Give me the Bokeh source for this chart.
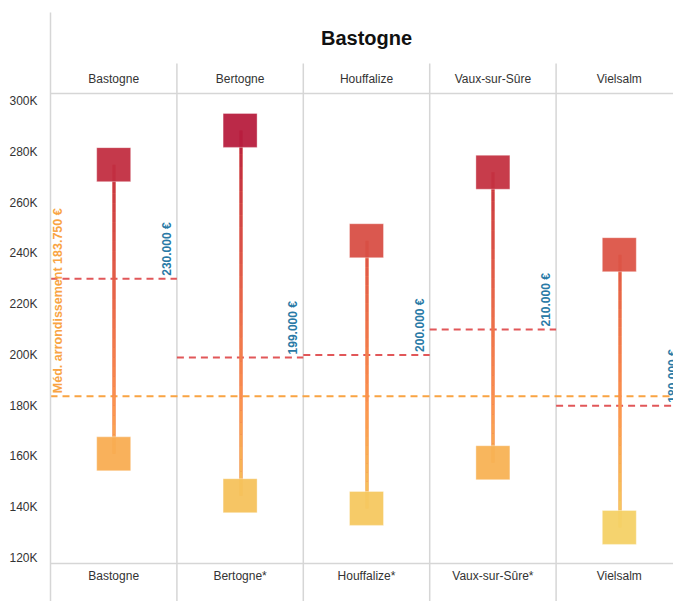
import numpy as np
from bokeh.plotting import figure
from bokeh.models import Range1d, FixedTicker, Arrow, ColumnDataSource, LinearColorMapper
from bokeh.core.properties import value
from bokeh.embed import file_html
from bokeh.resources import INLINE

# ---------------- data ----------------
title_text = "Bastogne"
towns = ["Bastogne", "Bertogne", "Houffalize", "Vaux-sur-Sûre", "Vielsalm"]
bottom_labels = ["Bastogne", "Bertogne*", "Houffalize*", "Vaux-sur-Sûre*", "Vielsalm"]
price_high = [275000, 288500, 245000, 272000, 239500]
price_low = [161000, 144500, 139500, 157500, 132000]
town_median = [230000, 199000, 200000, 210000, 180000]
district_median = 183750
district_label = "Méd. arrondissement 183.750 €"
y_ticks = [120000, 140000, 160000, 180000, 200000, 220000, 240000, 260000, 280000, 300000]
y_tick_labels = ["120K", "140K", "160K", "180K", "200K", "220K", "240K", "260K", "280K", "300K"]

# gold -> red colour scheme
gold_red = ["#f4d166", "#f6be59", "#f9aa51", "#fc964e", "#f6834b", "#ee734a",
            "#e56249", "#db5247", "#cf4244", "#c43141", "#b71d3e"]


def interp_palette(anchors, n=256):
    rgb = np.array([[int(h[i:i + 2], 16) for i in (1, 3, 5)] for h in anchors], float)
    pos = np.linspace(0, 1, len(anchors))
    t = np.linspace(0, 1, n)
    out = []
    for tt in t:
        c = [np.interp(tt, pos, rgb[:, k]) for k in range(3)]
        out.append("#%02x%02x%02x" % tuple(int(round(v)) for v in c))
    return out


palette = interp_palette(gold_red)

# ---------------- geometry helpers (pixel <-> data) ----------------
W, H = 673, 601
LEFT, TOP = 50, 12
COL_W = 126.4
Y300_PX = 100.7
PX_PER_K = 2.537


def xd(px):
    return (px - LEFT) / COL_W


def xpx(x):
    return LEFT + x * COL_W


def yd(py):
    return 300000 - (py - Y300_PX) / PX_PER_K * 1000


n = len(towns)
centers = [i + 0.5 for i in range(n)]

p = figure(width=W, height=H,
           x_range=Range1d(0, xd(W)), y_range=Range1d(yd(H), yd(TOP)),
           output_backend="svg", toolbar_location=None, x_axis_location=None,
           min_border_left=LEFT, min_border_right=0, min_border_top=TOP, min_border_bottom=0,
           outline_line_color=None, background_fill_color="white", border_fill_color="white")
p.grid.visible = False

ax = p.yaxis[0]
ax.ticker = FixedTicker(ticks=y_ticks)
ax.major_label_overrides = {t: l for t, l in zip(y_ticks, y_tick_labels)}
ax.major_tick_line_color = None
ax.minor_tick_line_color = None
ax.axis_line_color = "#d6d6d6"
ax.axis_line_width = 1.5
ax.major_label_text_font = "Liberation Sans"
ax.major_label_text_font_size = "12px"
ax.major_label_text_color = "#333333"
ax.major_label_standoff = 7

GRID = "#d6d6d6"
FONT = value("Liberation Sans")

# column separators
p.segment(x0=list(range(1, n)), x1=list(range(1, n)),
          y0=[yd(63)] * (n - 1), y1=[yd(H)] * (n - 1),
          line_color=GRID, line_width=1.5)

# pane boundary lines (extend into the left margin)
for py in (93, 563):
    p.add_layout(Arrow(end=None, x_start=xd(4), y_start=yd(py), x_end=xd(W), y_end=yd(py),
                       line_color=GRID, line_width=1.5))

# town medians
p.segment(x0=list(range(n)), x1=[i + 1 for i in range(n)], y0=town_median, y1=town_median,
          line_color="#e15759", line_width=2, line_dash="7 5")
# district median
p.segment(x0=[0], x1=[n], y0=[district_median], y1=[district_median],
          line_color="#f9a443", line_width=2, line_dash="7 5")

mapper = LinearColorMapper(palette=palette, low=min(price_low), high=max(price_high))

# whisker underlay (one plain band per town, coloured by its midpoint)
under = dict(left=[], right=[], bottom=price_low, top=price_high,
             v=[(lo + hi) / 2 for lo, hi in zip(price_low, price_high)])
for c in centers:
    cpx = round(xpx(c))
    under["left"].append(xd(cpx - 1))
    under["right"].append(xd(cpx + 2))
p.quad(left="left", right="right", bottom="bottom", top="top", source=ColumnDataSource(under),
       fill_color={"field": "v", "transform": mapper}, line_color=None)

# whisker gradient: pieces coloured by the value they cover
bands = dict(left=[], right=[], bottom=[], top=[], v=[])
for c, lo, hi in zip(centers, price_low, price_high):
    cpx = round(xpx(c))
    ys = np.linspace(lo, hi, 31)
    for a, b in zip(ys[:-1], ys[1:]):
        bands["left"].append(xd(cpx - 1))
        bands["right"].append(xd(cpx + 2))
        bands["bottom"].append(a)
        bands["top"].append(b)
        bands["v"].append((a + b) / 2)
p.quad(left="left", right="right", bottom="bottom", top="top", source=ColumnDataSource(bands),
       fill_color={"field": "v", "transform": mapper}, line_color=None)

pts = ColumnDataSource(dict(x=centers * 2, y=price_high + price_low, v=price_high + price_low))
p.scatter("x", "y", source=pts, marker="square", size=34,
          fill_color={"field": "v", "transform": mapper}, fill_alpha=0.95,
          line_color="white", line_alpha=0.35, line_width=1)

# median labels
med_text = [f"{m:,.0f}".replace(",", ".") + " €" for m in town_median]
p.text(x=[i + 1 for i in range(n)], y=town_median, text=med_text, angle=np.pi / 2,
       x_offset=-10, y_offset=-3, text_align="left", text_baseline="middle",
       text_font=FONT, text_font_style="bold", text_font_size="12px", text_color="#2a7aa6")
p.text(x=[0], y=[district_median], text=[district_label], angle=np.pi / 2,
       x_offset=7, y_offset=-3, text_align="left", text_baseline="middle",
       text_font=FONT, text_font_style="bold", text_font_size="12.5px", text_color="#f9a443")

# headers
p.text(x=centers, y=[yd(78)] * n, text=towns, text_align="center", text_baseline="middle",
       text_font=FONT, text_font_size="12px", text_color="#333333")
p.text(x=centers, y=[yd(575)] * n, text=bottom_labels, text_align="center", text_baseline="middle",
       text_font=FONT, text_font_size="12px", text_color="#333333")
p.text(x=[n / 2], y=[yd(37)], text=[title_text], text_align="center", text_baseline="middle",
       text_font=FONT, text_font_style="bold", text_font_size="20px", text_color="#111111")

open("out.html", "w").write(file_html(p, INLINE))
